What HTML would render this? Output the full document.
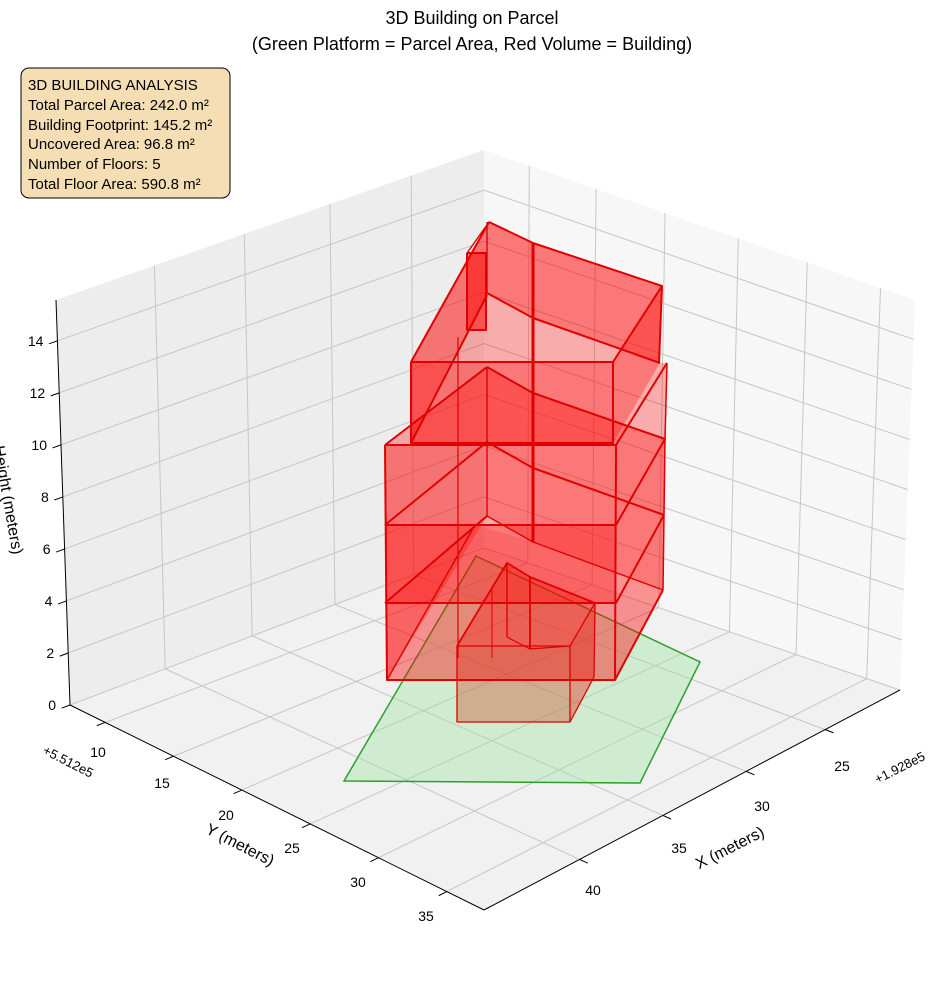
<!DOCTYPE html>
<html><head><meta charset="utf-8"><style>
html,body{margin:0;padding:0;background:#fff;}
svg{display:block;font-family:"Liberation Sans","DejaVu Sans",sans-serif;}
</style></head><body>
<svg id="s" width="944" height="992" viewBox="0 0 944 992" xmlns="http://www.w3.org/2000/svg">
<rect width="944" height="992" fill="#fff"/>
<g id="panes"></g>
<g id="grid" stroke="#c6c6c6" stroke-width="1" fill="none"></g>
<g id="axes" stroke="#000" stroke-width="1" fill="none"></g>
<g id="labels" font-size="14" fill="#000"></g>
<g id="bld"></g>
<text x="472" y="24" font-size="18" text-anchor="middle">3D Building on Parcel</text>
<text x="472" y="50" font-size="18" text-anchor="middle">(Green Platform = Parcel Area, Red Volume = Building)</text>
<rect x="21" y="68" width="209" height="130" rx="8" fill="#f5deb3" stroke="#000" stroke-width="1"/>
<g font-size="15" fill="#000">
<text x="28" y="90">3D BUILDING ANALYSIS</text>
<text x="28" y="110">Total Parcel Area: 242.0 m²</text>
<text x="28" y="130">Building Footprint: 145.2 m²</text>
<text x="28" y="149">Uncovered Area: 96.8 m²</text>
<text x="28" y="169">Number of Floors: 5</text>
<text x="28" y="189">Total Floor Area: 590.8 m²</text>
</g>
</svg>
<script>
const NS="http://www.w3.org/2000/svg";
function el(p,t,a,txt){const e=document.createElementNS(NS,t);for(const k in a)e.setAttribute(k,a[k]);if(txt!==undefined)e.textContent=txt;document.getElementById(p).appendChild(e);return e;}
function L(a,b,t){return [a[0]+(b[0]-a[0])*t,a[1]+(b[1]-a[1])*t];}
function pts(a){return a.map(p=>p.join(',')).join(' ');}
const LC=[70,705],BK=[484,548],RC=[900,690],FR=[484,910],LT=[56,300],BT=[484,150],RT=[915,300];
el('panes','polygon',{points:pts([LC,BK,BT,LT]),fill:'#ededed'});
el('panes','polygon',{points:pts([BK,RC,RT,BT]),fill:'#f7f7f7'});
el('panes','polygon',{points:pts([LC,BK,RC,FR]),fill:'#f1f1f1'});
const zmax=15.57;
[0.23,0.44,0.64,0.83].forEach(f=>{const a=L(LC,BK,f),b=L(LT,BT,f);el('grid','line',{x1:a[0],y1:a[1],x2:b[0],y2:b[1]});});
[0,2,4,6,8,10,12,14].forEach(z=>{const f=z/zmax;const a=L(LC,LT,f),b=L(BK,BT,f),c=L(RC,RT,f);
 el('grid','line',{x1:a[0],y1:a[1],x2:b[0],y2:b[1]});el('grid','line',{x1:b[0],y1:b[1],x2:c[0],y2:c[1]});
 const d=[a[0]-b[0],a[1]-b[1]],n=Math.hypot(d[0],d[1]);
 el('axes','line',{x1:a[0],y1:a[1],x2:a[0]+d[0]/n*9,y2:a[1]+d[1]/n*9});
 el('labels','text',{x:a[0]-14,y:a[1]+5,'text-anchor':'end'},String(z));});
const yb=[0.105,0.26,0.42,0.59,0.75,0.92],yf=[0.085,0.25,0.415,0.58,0.745,0.91];
yb.forEach((f,i)=>{const a=L(BK,RC,f),b=L(BT,RT,f),c=L(LC,FR,yf[i]);
 el('grid','line',{x1:a[0],y1:a[1],x2:b[0],y2:b[1]});el('grid','line',{x1:a[0],y1:a[1],x2:c[0],y2:c[1]});
 const d=[c[0]-a[0],c[1]-a[1]],n=Math.hypot(d[0],d[1]);
 el('axes','line',{x1:c[0],y1:c[1],x2:c[0]+d[0]/n*9,y2:c[1]+d[1]/n*9});});
[[0.23,0.23],[0.44,0.43],[0.64,0.63],[0.83,0.82]].forEach(([f,g])=>{const a=L(LC,BK,f),c=L(FR,RC,g);
 el('grid','line',{x1:a[0],y1:a[1],x2:c[0],y2:c[1]});
 const d=[c[0]-a[0],c[1]-a[1]],n=Math.hypot(d[0],d[1]);
 el('axes','line',{x1:c[0],y1:c[1],x2:c[0]+d[0]/n*9,y2:c[1]+d[1]/n*9});});
el('axes','line',{x1:LT[0],y1:LT[1],x2:LC[0],y2:LC[1]});
el('axes','line',{x1:LC[0],y1:LC[1],x2:FR[0],y2:FR[1]});
el('axes','line',{x1:FR[0],y1:FR[1],x2:RC[0],y2:RC[1]});
[[98,757,'10'],[162,788,'15'],[226,820,'20'],[292,853,'25'],[358,887,'30'],[426,921,'35']].forEach(t=>el('labels','text',{x:t[0],y:t[1],'text-anchor':'middle'},t[2]));
[[842,771,'25'],[762,811,'30'],[679,853,'35'],[593,895,'40']].forEach(t=>el('labels','text',{x:t[0],y:t[1],'text-anchor':'middle'},t[2]));
el('labels','text',{x:68,y:766,'text-anchor':'middle',transform:'rotate(27 68 762)','font-size':'13'},'+5.512e5');
el('labels','text',{x:900,y:772,'text-anchor':'middle',transform:'rotate(-27 900 768)','font-size':'13'},'+1.928e5');
el('labels','text',{x:240,y:850,'text-anchor':'middle',transform:'rotate(27 240 845)','font-size':'16'},'Y (meters)');
el('labels','text',{x:730,y:853,'text-anchor':'middle',transform:'rotate(-27 730 848)','font-size':'16'},'X (meters)');
el('labels','text',{x:8,y:505,'text-anchor':'middle',transform:'rotate(80 8 500)','font-size':'16'},'Height (meters)');
el('bld','polygon',{points:'476,556 700,662 640,783 344,781',fill:'rgba(160,230,160,0.4)',stroke:'#2ca02c','stroke-width':1.5});
const F='rgba(255,0,0,0.3)',S='#e00000';
function poly(p,f){el('bld','polygon',{points:p,fill:f||F,stroke:'none'});}
function ln(p,w){el('bld','polyline',{points:p,fill:'none',stroke:S,'stroke-width':w||2,'stroke-linejoin':'round'});}
poly('457,646 570,646 570,722 457,722','rgba(200,60,30,0.35)');
poly('570,646 595,603 594,677 570,722','rgba(220,40,20,0.4)');
poly('457,646 507,563 530,577 595,603 570,646');
poly('387,680 385,445 487,367 487,516');
poly('487,367 533,393 665,439 663,590 533,542 487,516');
poly('616,445 667,363 663,590 615,680');
poly('385,445 616,445 615,680 387,680');
poly('385,525 616,525 615,603 385,603');
poly('385,603 475,525 533,542 663,590 615,680 387,680','rgba(255,0,0,0.15)');
poly('411,362 489,222 533,243 662,286 660,363 613,443 411,443');
poly('411,362 489,222 487,295 411,443');
poly('489,222 533,243 662,286 660,363 533,318 487,293');
poly('613,362 662,286 660,363 613,443');
poly('411,362 613,362 613,443 411,443');
poly('613,443 660,363 667,363 616,445','rgba(255,0,0,0.3)');
poly('467,253 486,253 486,330 467,330','rgba(255,0,0,0.5)');
ln('385,445 616,445 615,680 387,680 385,445');
ln('385,525 616,525');ln('385,603 616,603');
ln('616,445 667,363');ln('616,525 665,439');ln('616,603 664,515');ln('615,680 663,590');
ln('665,439 663,590',1.5);ln('667,363 665,439',1.5);
ln('385,445 487,367');ln('385,525 487,442');ln('385,603 487,516');ln('387,680 475,525',1.4);
ln('487,367 487,516',1.4);ln('458,337 458,658',1.2);
ln('487,367 533,393 665,439');ln('487,442 533,468 664,515');ln('487,516 533,542 663,590',1.4);
ln('533,243 533,542',3);
ln('411,362 613,362 613,443 411,443 411,362');
ln('613,362 662,286 659,363');
ln('489,222 533,243 662,286');ln('487,293 533,318 660,363');
ln('411,362 489,222');ln('411,443 487,295');ln('487,222 487,293',1.4);
ln('467,253 486,253 486,330 467,330 467,253');ln('467,253 489,222',1.4);
ln('457,646 570,646 570,722 457,722 457,646',1.3);
ln('570,646 595,603 594,677 570,722',1.3);
ln('457,646 507,563 530,577 595,603',1.8);
ln('507,563 507,637',1.4);ln('530,577 530,649',1.8);ln('492,590 492,658',1);
ln('507,637 530,649 570,646',1.2);
</script>
</body></html>
